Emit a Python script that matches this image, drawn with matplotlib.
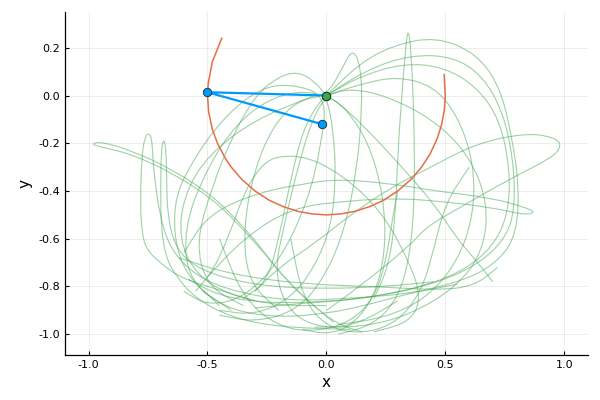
import matplotlib
matplotlib.use("Agg")
import matplotlib.pyplot as plt
from matplotlib.path import Path
from matplotlib.patches import PathPatch

# pendulum arms at the last frame: pivot, bob 1, bob 2
arm_x = [0.0, -0.501, -0.018]
arm_y = [0.0, 0.014, -0.120]

# path of bob 1
bob1_path = [(-0.44, 0.24), (-0.48, 0.14), (-0.497, 0.05), (-0.5, 0.0), (-0.495, -0.07),
             (-0.48, -0.14), (-0.458, -0.2), (-0.424, -0.265), (-0.4, -0.3), (-0.357, -0.35),
             (-0.3, -0.4), (-0.24, -0.439), (-0.18, -0.466), (-0.12, -0.485), (-0.06, -0.496),
             (0.0, -0.5), (0.06, -0.496), (0.12, -0.485), (0.18, -0.466), (0.24, -0.439),
             (0.3, -0.4), (0.357, -0.35), (0.4, -0.3), (0.436, -0.245), (0.466, -0.18),
             (0.485, -0.12), (0.496, -0.06), (0.5, 0.0), (0.497, 0.05), (0.495, 0.088)]

# path of bob 2, traced piece by piece
left_thin_loop = [(0.03, -0.95), (-0.081, -0.857), (-0.194, -0.745), (-0.278, -0.633), (-0.362, -0.536),
                  (-0.474, -0.424), (-0.643, -0.312), (-0.825, -0.228), (-0.95, -0.193), (-0.99, -0.203),
                  (-0.95, -0.215), (-0.82, -0.245), (-0.64, -0.328), (-0.47, -0.44), (-0.36, -0.55),
                  (-0.27, -0.65), (-0.18, -0.76), (-0.07, -0.87), (0.05, -0.96), (0.15, -0.99)]
tall_loop_1 = [(-0.3, -0.86), (-0.5, -0.80), (-0.62, -0.76), (-0.70, -0.70), (-0.755, -0.647),
               (-0.776, -0.578), (-0.783, -0.438), (-0.776, -0.256), (-0.765, -0.18), (-0.748, -0.155),
               (-0.734, -0.18), (-0.73, -0.26), (-0.72, -0.37), (-0.70, -0.50), (-0.665, -0.62),
               (-0.60, -0.71), (-0.50, -0.78), (-0.35, -0.83), (-0.15, -0.86), (0.1, -0.85),
               (0.35, -0.83), (0.55, -0.79)]
tall_loop_2 = [(0.1, -0.98), (-0.2, -0.97), (-0.4, -0.93), (-0.55, -0.85), (-0.63, -0.76),
               (-0.675, -0.68), (-0.695, -0.55), (-0.697, -0.40), (-0.695, -0.24), (-0.685, -0.175),
               (-0.674, -0.23), (-0.672, -0.35), (-0.668, -0.5), (-0.64, -0.62), (-0.58, -0.70),
               (-0.45, -0.76), (-0.25, -0.80), (0.0, -0.81), (0.25, -0.80), (0.45, -0.78)]
right_arc_a = [(0.0, 0.0), (0.14, 0.135), (0.28, 0.21), (0.46, 0.247), (0.63, 0.177), (0.73, 0.037),
               (0.78, -0.172), (0.81, -0.382), (0.80, -0.577), (0.73, -0.689), (0.59, -0.773),
               (0.35, -0.829), (0.14, -0.885), (0.0, -0.913), (-0.2, -0.93), (-0.4, -0.9),
               (-0.52, -0.82)]
right_arc_b = [(0.0, 0.0), (0.168, 0.107), (0.351, 0.17), (0.533, 0.164), (0.66, 0.08),
               (0.744, -0.074), (0.786, -0.27), (0.793, -0.466), (0.758, -0.592), (0.646, -0.703),
               (0.463, -0.787), (0.21, -0.843), (0.0, -0.864), (-0.25, -0.87), (-0.45, -0.84),
               (-0.58, -0.77)]
right_arc_c = [(0.0, 0.0), (0.14, 0.08), (0.323, 0.135), (0.491, 0.121), (0.632, 0.037),
               (0.73, -0.102), (0.772, -0.312), (0.765, -0.494), (0.702, -0.633), (0.561, -0.745),
               (0.351, -0.815), (0.112, -0.856), (-0.1, -0.87), (-0.3, -0.89)]
right_arc_d = [(0.0, 0.0), (0.15, 0.05), (0.3, 0.08), (0.45, 0.04), (0.55, -0.08), (0.62, -0.28),
               (0.62, -0.5), (0.55, -0.7), (0.42, -0.85), (0.25, -0.93), (0.05, -0.96)]
right_loop_far = [(-0.3, -0.82), (-0.2, -0.72), (-0.05, -0.62), (0.1, -0.5), (0.28, -0.38),
                  (0.42, -0.31), (0.63, -0.20), (0.84, -0.157), (0.96, -0.175), (0.99, -0.21),
                  (0.95, -0.26), (0.77, -0.35), (0.56, -0.47), (0.42, -0.55), (0.35, -0.63),
                  (0.14, -0.80), (0.0, -0.9)]
right_loop_near = [(-0.6, -0.66), (-0.5, -0.5), (-0.3, -0.41), (-0.1, -0.37), (0.05, -0.35),
                   (0.28, -0.37), (0.46, -0.40), (0.70, -0.43), (0.84, -0.47), (0.88, -0.49),
                   (0.83, -0.50), (0.70, -0.47), (0.5, -0.445), (0.3, -0.43), (0.1, -0.44),
                   (-0.15, -0.47), (-0.35, -0.6), (-0.5, -0.76)]
tall_loop_top = [(0.2, -0.85), (0.26, -0.72), (0.29, -0.52), (0.30, -0.24), (0.32, 0.04),
                 (0.335, 0.22), (0.344, 0.28), (0.355, 0.2), (0.365, 0.0), (0.37, -0.2),
                 (0.37, -0.45), (0.35, -0.68), (0.3, -0.85), (0.2, -0.96), (0.05, -1.0)]
fan_1 = [(-0.35, -0.88), (-0.5, -0.8), (-0.55, -0.62), (-0.48, -0.38), (-0.4, -0.18), (-0.3, 0.0),
         (-0.2, 0.08), (-0.12, 0.10), (-0.05, 0.06), (0.0, 0.0), (0.03, -0.15), (0.04, -0.35),
         (0.02, -0.55), (-0.05, -0.72), (-0.15, -0.85), (-0.3, -0.92), (-0.45, -0.9)]
fan_2 = [(-0.2, -0.9), (-0.33, -0.78), (-0.35, -0.55), (-0.3, -0.3), (-0.22, -0.12), (-0.12, -0.02),
         (0.0, 0.0), (0.06, 0.1), (0.11, 0.2), (0.145, 0.12), (0.15, -0.05), (0.13, -0.3),
         (0.08, -0.55), (0.0, -0.75), (-0.12, -0.9), (-0.3, -0.95), (-0.45, -0.92)]
fan_3 = [(-0.4, -0.9), (-0.58, -0.78), (-0.6, -0.55), (-0.5, -0.3), (-0.38, -0.12), (-0.25, -0.02),
         (-0.12, 0.02), (0.0, 0.0), (0.08, -0.05), (0.18, -0.2), (0.24, -0.42), (0.25, -0.65),
         (0.2, -0.85), (0.1, -0.97), (0.0, -1.0), (-0.1, -0.98)]
fan_4 = [(-0.35, -0.85), (-0.25, -0.78), (-0.2, -0.6), (-0.15, -0.35), (-0.1, -0.15), (-0.04, -0.04),
         (0.0, 0.0), (0.1, 0.03), (0.25, 0.0), (0.45, -0.1), (0.6, -0.25), (0.68, -0.45),
         (0.66, -0.65), (0.55, -0.8), (0.35, -0.92), (0.15, -0.97), (-0.05, -0.97)]
fan_5 = [(-0.45, -0.88), (-0.62, -0.72), (-0.65, -0.45), (-0.55, -0.25), (-0.42, -0.08),
         (-0.28, 0.03), (-0.15, 0.05), (0.0, 0.0), (-0.02, -0.2), (-0.08, -0.45), (-0.2, -0.7),
         (-0.35, -0.85), (-0.5, -0.88), (-0.6, -0.82)]
fan_6 = [(0.7, -0.78), (0.62, -0.68), (0.55, -0.6), (0.45, -0.45), (0.3, -0.28), (0.15, -0.12),
         (0.05, -0.03), (0.0, 0.0), (-0.06, -0.1), (-0.12, -0.3), (-0.18, -0.55), (-0.22, -0.75),
         (-0.15, -0.92), (0.0, -0.98), (0.15, -0.95), (0.3, -0.86)]
left_lobe = [(-0.05, 0.0), (-0.3, -0.1), (-0.5, -0.25), (-0.6, -0.42), (-0.62, -0.6), (-0.55, -0.75),
             (-0.4, -0.84), (-0.2, -0.88), (0.0, -0.88)]
middle_arc = [(-0.55, -0.82), (-0.45, -0.7), (-0.3, -0.28), (-0.118, -0.24), (0.067, -0.33),
              (0.236, -0.49), (0.35, -0.7), (0.4, -0.85), (0.35, -0.95), (0.2, -0.99)]
bottom_sweep = [(-0.62, -0.68), (-0.4, -0.75), (-0.1, -0.79), (0.2, -0.8), (0.46, -0.815),
                (0.62, -0.8), (0.72, -0.72)]
bottom_u_1 = [(-0.45, -0.6), (-0.35, -0.85), (-0.2, -0.97), (-0.05, -0.99), (0.1, -0.95),
              (0.2, -0.85), (0.25, -0.7), (0.28, -0.5), (0.3, -0.4)]
bottom_u_2 = [(-0.15, -0.6), (-0.1, -0.85), (0.0, -0.97), (0.15, -1.0), (0.3, -0.95), (0.4, -0.82),
              (0.45, -0.65), (0.5, -0.45), (0.6, -0.3)]

green_pieces = [left_thin_loop, tall_loop_1, tall_loop_2, right_arc_a, right_arc_b, right_arc_c,
                right_arc_d, right_loop_far, right_loop_near, tall_loop_top, fan_1, fan_2, fan_3,
                fan_4, fan_5, fan_6, left_lobe, middle_arc, bottom_sweep, bottom_u_1, bottom_u_2]

BLUE = "#009AFA"
ORANGE = "#E36F47"
GREEN = "#3EA44E"


def smooth_path(points):
    # quadratic bezier through the midpoints, read points act as control points
    verts = [points[0], ((points[0][0] + points[1][0]) / 2, (points[0][1] + points[1][1]) / 2)]
    codes = [Path.MOVETO, Path.LINETO]
    for i in range(1, len(points) - 1):
        nxt = points[i + 1]
        mid = ((points[i][0] + nxt[0]) / 2, (points[i][1] + nxt[1]) / 2)
        verts += [points[i], mid]
        codes += [Path.CURVE3, Path.CURVE3]
    verts.append(points[-1])
    codes.append(Path.LINETO)
    return Path(verts, codes)


plt.rcParams["font.family"] = ["DejaVu Sans"]
fig = plt.figure(figsize=(6, 4), dpi=100)
ax = fig.add_axes([0.108, 0.1125, 0.872, 0.8575])

for piece in green_pieces:
    ax.add_patch(PathPatch(smooth_path(piece), fill=False, edgecolor=GREEN, lw=0.8,
                           alpha=0.5, zorder=2))

bx, by = zip(*bob1_path)
ax.plot(bx, by, color=ORANGE, lw=1.1, zorder=3)

ax.plot(arm_x, arm_y, color=BLUE, lw=1.6, marker="o", ms=6, mfc=BLUE,
        mec="#1a3a4a", mew=0.7, zorder=4)
ax.plot(arm_x[:1], arm_y[:1], ls="none", marker="o", ms=6, mfc=GREEN,
        mec="#1a3a2a", mew=0.7, zorder=5)

ax.set_xlim(-1.1, 1.1)
ax.set_ylim(-1.087, 0.35)
ax.set_xticks([-1.0, -0.5, 0.0, 0.5, 1.0])
ax.set_yticks([-1.0, -0.8, -0.6, -0.4, -0.2, 0.0, 0.2])
ax.xaxis.set_major_formatter(matplotlib.ticker.FormatStrFormatter("%.1f"))
ax.yaxis.set_major_formatter(matplotlib.ticker.FormatStrFormatter("%.1f"))
ax.grid(True, color="black", alpha=0.1, lw=0.5)
ax.set_axisbelow(True)
for side in ["top", "right"]:
    ax.spines[side].set_visible(False)
for side in ["left", "bottom"]:
    ax.spines[side].set_linewidth(0.9)
ax.tick_params(direction="in", length=3, labelsize=8, colors="black")
ax.set_xlabel("x", fontsize=11)
ax.set_ylabel("y", fontsize=11)

fig.savefig("out.png", dpi=100)
